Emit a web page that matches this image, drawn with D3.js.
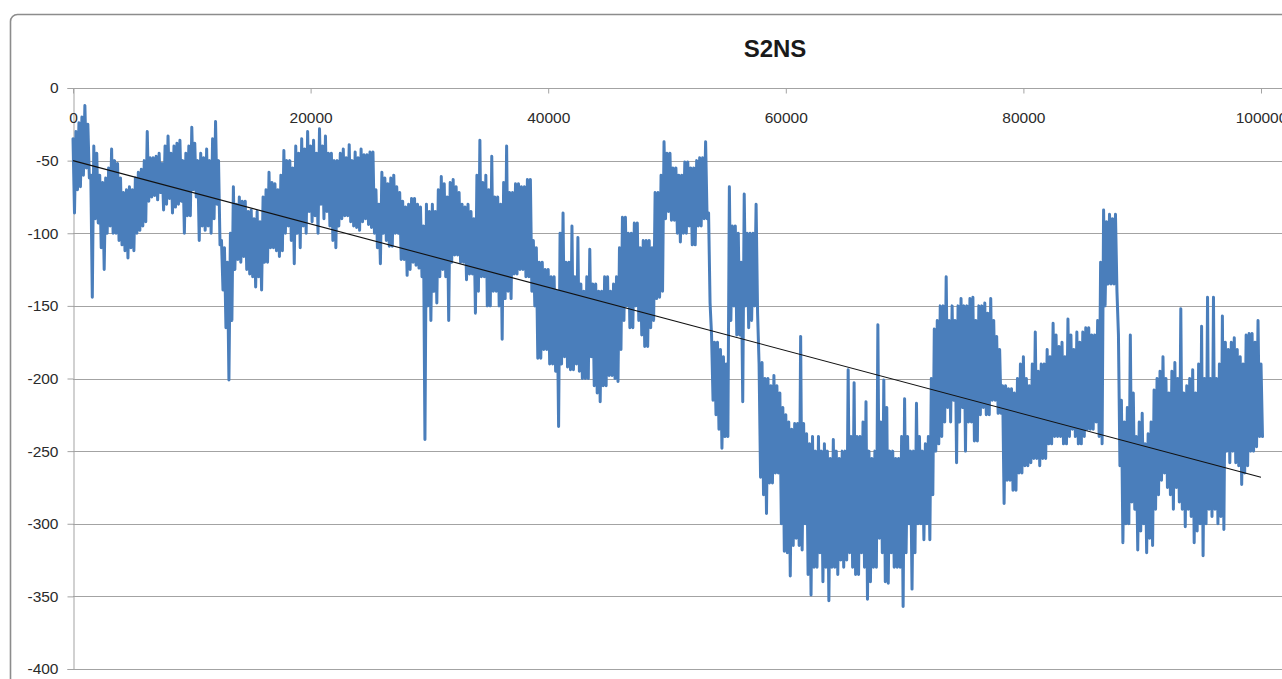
<!DOCTYPE html>
<html>
<head>
<meta charset="utf-8">
<title>S2NS</title>
<script src="https://cdn.jsdelivr.net/npm/d3@7/dist/d3.min.js"></script>
<style>
  html, body { margin: 0; padding: 0; background: #ffffff; overflow: hidden; }
  svg { display: block; }
  .tick text { font-family: "Liberation Sans", Arial, sans-serif; font-size: 15.5px; fill: #2b2b2b; }
</style>
</head>
<body>
<svg id="chart" width="1282" height="679"></svg>
<script>
// S2NS signal summarised in bins of 250 samples (0 .. 100000):
// the highest and the lowest reading inside each bin.
const binSize = 250;
const s2nsHigh = [
  -35,-30,-24,-20,-12,-25,-60,-40,-45,-60,
  -65,-62,-55,-42,-50,-52,-62,-72,-70,-68,
  -70,-62,-58,-56,-50,-30,-48,-48,-47,-45,
  -52,-40,-33,-45,-40,-38,-36,-50,-45,-40,
  -27,-38,-50,-45,-48,-42,-50,-35,-23,-50,
  -105,-110,-120,-100,-68,-80,-75,-78,-78,-85,
  -84,-90,-85,-92,-75,-70,-58,-65,-66,-70,
  -60,-43,-50,-50,-55,-40,-45,-35,-42,-30,
  -40,-36,-45,-28,-40,-33,-45,-45,-50,-50,
  -45,-42,-48,-39,-50,-44,-48,-42,-46,-46,
  -44,-44,-70,-80,-58,-62,-66,-62,-60,-68,
  -72,-78,-82,-80,-76,-76,-80,-82,-95,-80,
  -85,-80,-85,-70,-61,-66,-75,-65,-63,-68,
  -72,-80,-82,-80,-85,-90,-60,-36,-65,-60,
  -70,-47,-75,-75,-80,-65,-40,-72,-72,-66,
  -66,-68,-68,-63,-63,-105,-110,-120,-120,-125,
  -125,-130,-130,-140,-100,-86,-120,-120,-95,-130,
  -103,-135,-140,-130,-111,-135,-135,-140,-140,-130,
  -130,-140,-135,-130,-110,-89,-89,-100,-100,-93,
  -93,-110,-105,-105,-105,-110,-72,-72,-60,-37,
  -45,-45,-55,-55,-60,-60,-51,-51,-55,-55,
  -50,-48,-48,-37,-86,-170,-175,-175,-180,-185,
  -190,-68,-95,-95,-100,-120,-73,-100,-100,-100,
  -80,-190,-189,-200,-200,-205,-198,-205,-210,-220,
  -225,-230,-235,-231,-231,-171,-231,-238,-245,-240,
  -250,-240,-250,-245,-250,-255,-242,-250,-255,-250,
  -250,-194,-240,-203,-240,-240,-230,-216,-250,-255,
  -250,-163,-230,-201,-220,-250,-250,-255,-255,-240,
  -214,-240,-250,-250,-217,-240,-250,-245,-240,-200,
  -166,-160,-150,-150,-130,-160,-150,-160,-150,-145,
  -150,-150,-145,-144,-160,-150,-150,-148,-155,-145,
  -160,-171,-180,-205,-205,-207,-207,-210,-200,-190,
  -185,-200,-205,-190,-168,-195,-190,-190,-180,-185,
  -162,-170,-178,-175,-185,-159,-170,-180,-168,-175,
  -168,-165,-165,-170,-170,-160,-120,-84,-92,-87,
  -90,-87,-170,-215,-230,-220,-170,-210,-240,-230,
  -224,-245,-238,-230,-208,-200,-195,-185,-200,-210,
  -195,-189,-200,-152,-210,-205,-200,-194,-210,-190,
  -164,-200,-144,-200,-144,-200,-190,-157,-175,-180,
  -175,-172,-180,-185,-190,-170,-169,-169,-175,-160,
  -190
];
const s2nsLow = [
  -86,-70,-68,-60,-55,-62,-144,-90,-93,-110,
  -125,-100,-95,-100,-100,-105,-108,-112,-117,-110,
  -112,-100,-98,-95,-92,-78,-75,-74,-77,-72,
  -84,-80,-76,-86,-82,-80,-78,-100,-88,-88,
  -70,-75,-105,-95,-98,-95,-100,-90,-80,-108,
  -139,-165,-201,-160,-125,-118,-120,-116,-125,-128,
  -130,-137,-130,-139,-120,-120,-110,-110,-112,-116,
  -112,-100,-95,-105,-121,-100,-110,-95,-100,-85,
  -92,-88,-100,-80,-90,-85,-95,-105,-110,-95,
  -90,-88,-88,-92,-95,-96,-98,-92,-90,-94,
  -96,-100,-110,-121,-100,-105,-109,-109,-100,-100,
  -118,-118,-129,-125,-120,-122,-124,-130,-242,-150,
  -160,-140,-148,-130,-125,-130,-160,-120,-115,-115,
  -120,-120,-132,-128,-128,-155,-140,-130,-130,-150,
  -150,-140,-140,-150,-173,-145,-140,-145,-128,-128,
  -125,-125,-130,-130,-140,-150,-186,-186,-180,-180,
  -190,-190,-195,-233,-190,-185,-192,-194,-194,-190,
  -195,-200,-200,-200,-185,-205,-210,-216,-205,-205,
  -198,-198,-200,-202,-180,-160,-150,-165,-165,-150,
  -160,-170,-178,-178,-165,-160,-145,-144,-140,-90,
  -85,-91,-91,-100,-106,-100,-100,-95,-108,-108,
  -95,-95,-90,-90,-148,-215,-225,-235,-248,-240,
  -240,-160,-150,-170,-170,-216,-150,-165,-160,-150,
  -155,-268,-280,-293,-272,-272,-265,-265,-300,-319,
  -320,-336,-315,-310,-315,-318,-300,-335,-349,-330,
  -330,-320,-340,-330,-353,-330,-330,-335,-325,-330,
  -325,-320,-330,-335,-335,-320,-330,-352,-340,-330,
  -330,-310,-320,-340,-341,-320,-330,-330,-330,-357,
  -320,-300,-345,-320,-300,-300,-311,-300,-311,-280,
  -250,-245,-240,-230,-220,-230,-215,-258,-230,-220,
  -250,-230,-230,-243,-243,-225,-220,-225,-225,-215,
  -215,-224,-224,-286,-270,-270,-277,-277,-265,-265,
  -260,-260,-258,-255,-255,-260,-255,-255,-245,-245,
  -240,-240,-240,-245,-245,-240,-235,-240,-245,-245,
  -240,-235,-235,-235,-230,-240,-245,-150,-135,-135,
  -135,-140,-260,-313,-300,-300,-285,-290,-318,-305,
  -300,-320,-310,-315,-290,-280,-270,-265,-275,-280,
  -290,-275,-285,-290,-302,-290,-295,-313,-305,-300,
  -322,-300,-290,-295,-290,-300,-295,-304,-250,-258,
  -250,-258,-260,-273,-265,-260,-250,-250,-247,-240,
  -240
];

// Linear trend line end points
const trendX = [0, 100000];
const trendY = [-50, -268];

// Axis ticks
const xTicks = [0, 20000, 40000, 60000, 80000, 100000];
const yTicks = [0, -50, -100, -150, -200, -250, -300, -350, -400];

const svg = d3.select("#chart");
const W = 1282;

const x = d3.scaleLinear().domain([0, 100000]).range([73, 1261]);
const y = d3.scaleLinear().domain([-400, 0]).range([669, 88]);

// Chart frame
svg.append("rect")
  .attr("x", 10.5).attr("y", 14.5)
  .attr("width", 1320).attr("height", 720)
  .attr("rx", 7)
  .attr("fill", "#ffffff")
  .attr("stroke", "#8c8c8c")
  .attr("stroke-width", 1.6);

// Horizontal gridlines
svg.append("g")
  .selectAll("line")
  .data(yTicks)
  .join("line")
  .attr("x1", x(0)).attr("x2", W)
  .attr("y1", d => Math.round(y(d)) + 0.5)
  .attr("y2", d => Math.round(y(d)) + 0.5)
  .attr("stroke", "#a3a3a3")
  .attr("stroke-width", 1);

// Y axis
const yAxis = svg.append("g")
  .attr("transform", `translate(${Math.round(x(0)) + 0.5},0)`)
  .call(d3.axisLeft(y).tickValues(yTicks).tickFormat(d => String(d)).tickSize(6).tickPadding(9));
yAxis.select(".domain").attr("stroke", "#a3a3a3");
yAxis.selectAll(".tick line").attr("stroke", "#a3a3a3");

// X axis sits on the zero line, labels underneath
const xAxis = svg.append("g")
  .attr("transform", `translate(0,${Math.round(y(0)) + 0.5})`)
  .call(d3.axisBottom(x).tickValues(xTicks).tickFormat(d => String(d)).tickSize(5).tickPadding(18));
xAxis.select(".domain").remove();
xAxis.selectAll(".tick line").attr("stroke", "#a3a3a3");

// Series: each bin is traced from its high to its low reading
const tracePoints = [];
s2nsHigh.forEach((hi, i) => {
  tracePoints.push([i * binSize, hi]);
  tracePoints.push([i * binSize + binSize / 2, s2nsLow[i]]);
});

const line = d3.line()
  .x(d => x(d[0]))
  .y(d => y(d[1]));

svg.append("path")
  .datum(tracePoints)
  .attr("fill", "none")
  .attr("stroke", "#4a7ebb")
  .attr("stroke-width", 3)
  .attr("stroke-linejoin", "round")
  .attr("stroke-linecap", "round")
  .attr("d", line);

// Trend line
svg.append("path")
  .datum(trendX.map((v, i) => [v, trendY[i]]))
  .attr("fill", "none")
  .attr("stroke", "#111")
  .attr("stroke-width", 1.1)
  .attr("d", line);

// Title
svg.append("text")
  .attr("x", 775).attr("y", 57)
  .attr("text-anchor", "middle")
  .attr("font-family", "'Liberation Sans', Arial, sans-serif")
  .attr("font-weight", "bold")
  .attr("font-size", 24)
  .attr("fill", "#1a1a1a")
  .text("S2NS");
</script>
</body>
</html>
